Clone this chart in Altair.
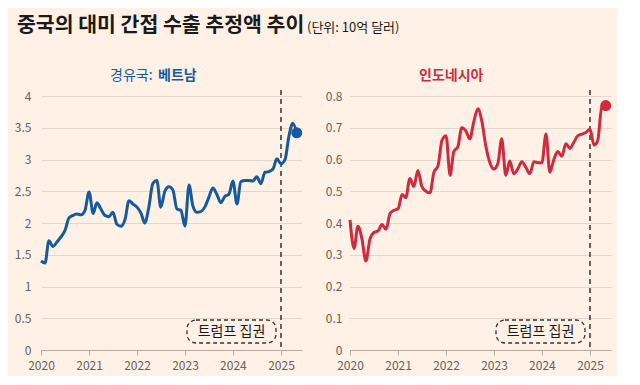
import altair as alt
import pandas as pd

# ---- data -------------------------------------------------------------
months = pd.date_range("2020-01-01", "2025-05-01", freq="MS").strftime("%Y-%m-%dT00:00:00").tolist()

vietnam = [
    1.40, 1.37, 1.72, 1.63, 1.70, 1.78, 1.88, 2.08, 2.12, 2.14, 2.13, 2.20,
    2.49, 2.15, 2.32, 2.22, 2.12, 2.10, 2.17, 1.98, 1.95, 2.05, 2.35, 2.30,
    2.25, 2.15, 2.00, 2.25, 2.62, 2.67, 2.25, 2.50, 2.57, 2.52, 2.22, 2.20,
    1.95, 2.60, 2.28, 2.17, 2.18, 2.25, 2.40, 2.55, 2.45, 2.32, 2.42, 2.45,
    2.66, 2.30, 2.65, 2.67, 2.67, 2.66, 2.73, 2.62, 2.80, 2.81, 2.85, 3.01,
    2.93, 3.00, 3.35, 3.57, 3.42,
]
indonesia = [
    0.41, 0.32, 0.39, 0.35, 0.28, 0.35, 0.37, 0.375, 0.395, 0.38, 0.43, 0.44,
    0.445, 0.49, 0.48, 0.54, 0.515, 0.565, 0.515, 0.50, 0.495, 0.56, 0.58, 0.66,
    0.675, 0.55, 0.625, 0.64, 0.70, 0.69, 0.665, 0.72, 0.76, 0.72, 0.64, 0.59,
    0.57, 0.59, 0.665, 0.55, 0.595, 0.555, 0.57, 0.593, 0.575, 0.555, 0.593, 0.59,
    0.59, 0.68, 0.56, 0.60, 0.625, 0.61, 0.65, 0.635, 0.655, 0.675, 0.68, 0.685,
    0.695, 0.645, 0.66, 0.765, 0.77,
]

year_ticks = [2020, 2021, 2022, 2023, 2024, 2025]
vn_ticks = [0, 0.5, 1, 1.5, 2, 2.5, 3, 3.5, 4]
id_ticks = [0, 0.1, 0.2, 0.3, 0.4, 0.5, 0.6, 0.7, 0.8]

title_text = "중국의 대미 간접 수출 추정액 추이"
unit_text = "(단위: 10억 달러)"
vn_prefix = "경유국:"
vn_name = "베트남"
id_name = "인도네시아"
marker_date = "2025-01-01T00:00:00"
box_label = "트럼프 집권"

# ---- style ------------------------------------------------------------
FONT = "Noto Sans CJK KR"
W, H = 261, 254
BLUE = "#175A9C"
RED = "#CE2A40"
BG = "#FFF1E5"
INK = "#1A1A1A"


def text(s, x, y, size, color, weight="normal", align="left", baseline="alphabetic"):
    return alt.Chart(pd.DataFrame({"t": [s]})).mark_text(
        font=FONT, fontSize=size, fontWeight=weight, color=color,
        align=align, baseline=baseline,
    ).encode(text="t:N", x=alt.value(x), y=alt.value(y))


def panel(values, color, ymax, yticks, lab_pad, extra):
    df = pd.DataFrame({"date": months, "value": values})
    x = alt.X(
        "date:T", title=None,
        scale=alt.Scale(domain=[alt.DateTime(year=2020, month=1, date=1),
                                alt.DateTime(year=2025, month=6, date=10)]),
        axis=alt.Axis(values=[alt.DateTime(year=y, month=1, date=1) for y in year_ticks],
                      format="%Y", grid=False, labelPadding=5, labelFlush=False),
    )
    y = alt.Y(
        "value:Q", title=None,
        scale=alt.Scale(domain=[0, ymax], nice=False),
        axis=alt.Axis(values=yticks, format="~g", ticks=False, domain=False,
                      grid=True, labelPadding=lab_pad),
    )
    rule = alt.Chart(pd.DataFrame({"date": [marker_date]})).mark_rule(
        color="#333333", strokeWidth=1.5, strokeDash=[5, 4]
    ).encode(x=alt.X("date:T"), y=alt.value(-6), y2=alt.value(H))
    line = alt.Chart(df).mark_line(
        color=color, strokeWidth=3, interpolate="monotone"
    ).encode(x=x, y=y)
    dot = alt.Chart(df.tail(1)).mark_circle(
        color=color, size=120, opacity=1
    ).encode(x=x, y=y)
    box = alt.Chart(pd.DataFrame({"t": [box_label]})).mark_rect(
        fillOpacity=0, stroke="#333333", strokeWidth=1.3, strokeDash=[4, 3], cornerRadius=9
    ).encode(x=alt.value(146), x2=alt.value(235), y=alt.value(224), y2=alt.value(247))
    label = text(box_label, 190.5, 236, 14, INK, align="center", baseline="middle")
    return alt.layer(rule, line, dot, box, label, *extra).properties(width=W, height=H)


left = panel(vietnam, BLUE, 4, vn_ticks, 10, [
    text(title_text, -24, -64, 20.5, INK, weight="bold"),
    text(unit_text, 266, -64, 13, INK),
    text(vn_prefix, 69, -16, 14, BLUE),
    text(vn_name, 117, -16, 14, BLUE, weight="bold"),
])
right = panel(indonesia, RED, 0.8, id_ticks, 8, [
    text(id_name, 69, -16, 14, RED, weight="bold"),
])

chart = alt.hconcat(left, right, spacing=48, bounds="flush").properties(
    background=BG,
    padding={"left": 6, "top": 8, "right": 5, "bottom": 5},
).configure_view(stroke=None).configure_axis(
    labelFont=FONT, labelFontSize=12, labelColor="#66605C",
    gridColor="#E4D6CA", domainColor="#B5ABA2", tickColor="#B5ABA2",
    tickSize=5,
)

chart.save("out.html", embed_options={"renderer": "svg", "actions": False})
